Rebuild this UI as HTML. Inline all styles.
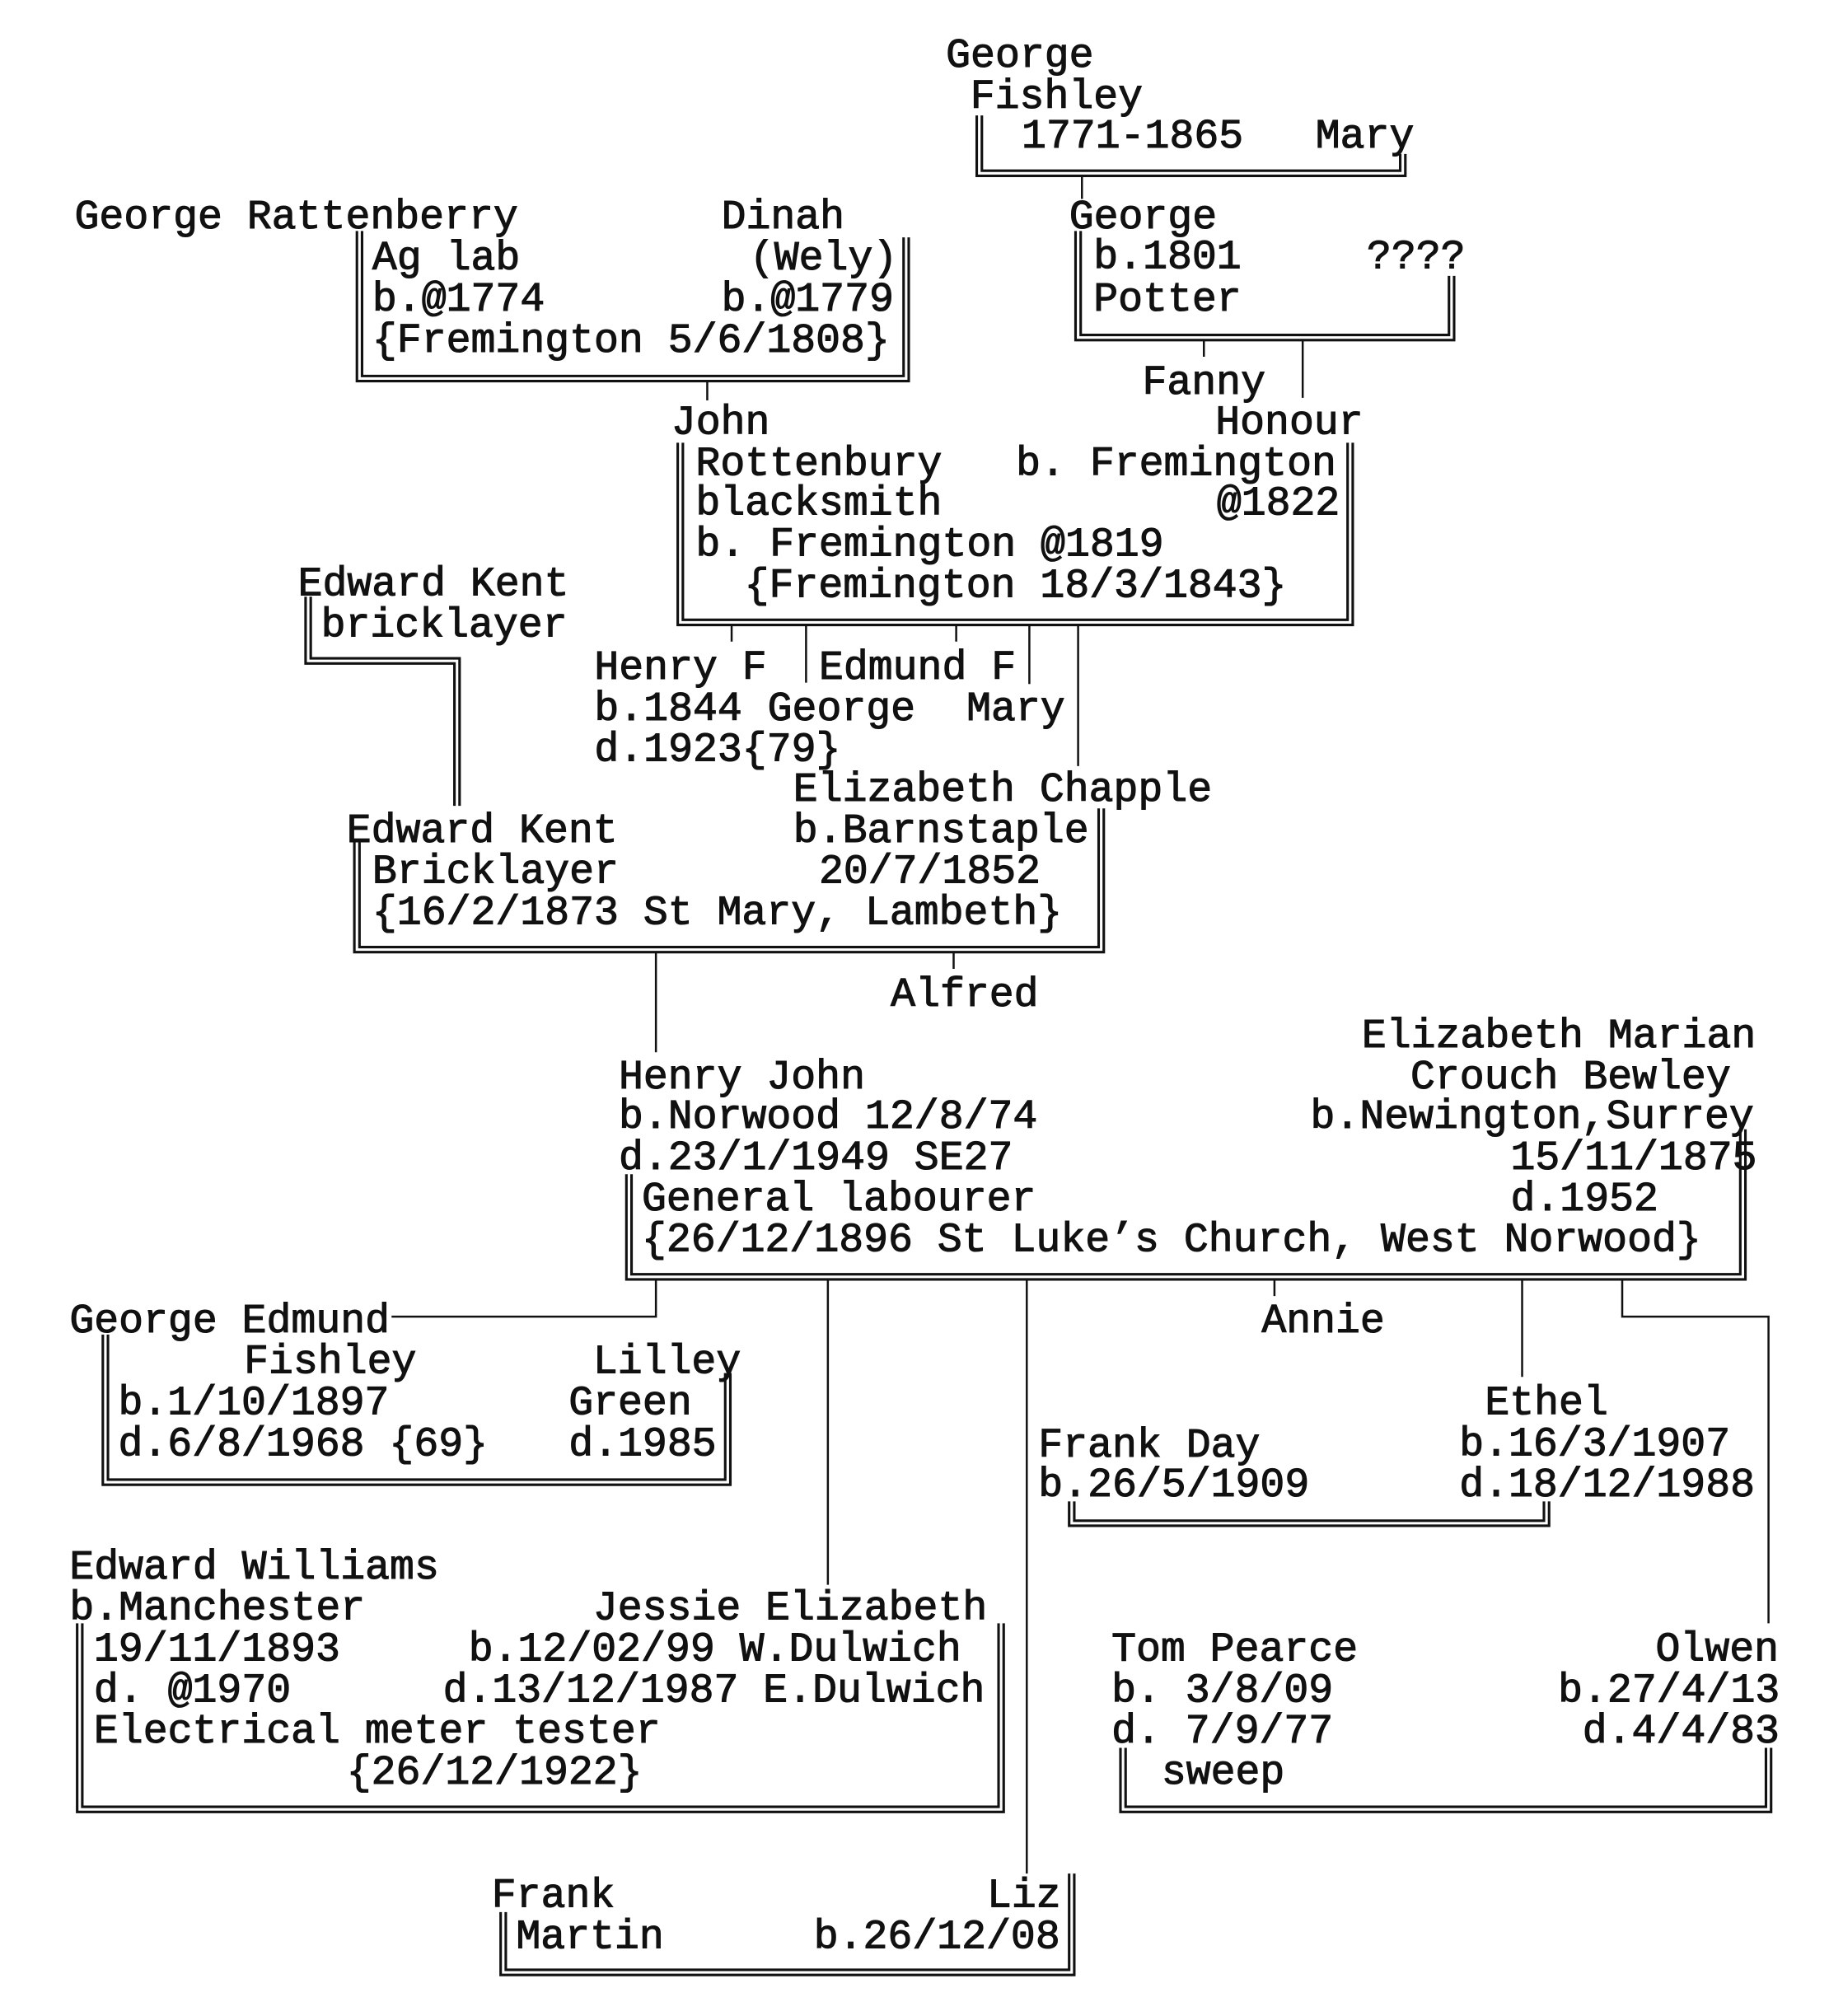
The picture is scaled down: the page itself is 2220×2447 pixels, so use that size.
<!DOCTYPE html>
<html><head><meta charset="utf-8"><style>
html,body{margin:0;padding:0;background:#fff}
svg{display:block}
text{font-family:"Liberation Mono","DejaVu Sans Mono",monospace;font-size:32px;fill:#111;stroke:#111;stroke-width:0.7;white-space:pre}
</style></head><body>
<svg width="2220" height="2447" viewBox="0 0 1425 1571" xmlns="http://www.w3.org/2000/svg" xml:space="preserve">
<g fill="none" stroke="#111" stroke-width="1.6">
<path d="M843 135V155"/>
<path d="M938 263V278M1015 263V310"/>
<path d="M551 295V312"/>
<path d="M570 485V500M628 485V532M745 485V500M802 485V533M840 485V597"/>
<path d="M511 740V820M743 740V755"/>
<path d="M511 995V1026H305M645 995V1235M800 995V1460M993 995V1010M1186 995V1073M1264 995V1026H1378V1265"/>
</g>
<g fill="none" stroke="#111" stroke-width="6" stroke-linejoin="miter">
<path d="M763 90V135H1093V120"/>
<path d="M840 180V263H1131V215"/>
<path d="M280 180V295H706V185"/>
<path d="M530 345V485H1052V345"/>
<path d="M240 465V515H356V628"/>
<path d="M278 655V740H858V630"/>
<path d="M490 915V995H1358V880"/>
<path d="M82 1040V1155H567V1070"/>
<path d="M835 1170V1187H1205V1170"/>
<path d="M62 1265V1410H780V1265"/>
<path d="M875 1362V1410H1378V1362"/>
<path d="M392 1490V1537H835V1460"/>
</g>
<g fill="none" stroke="#fff" stroke-width="2" stroke-linejoin="miter">
<path d="M763 88V135H1093V118"/>
<path d="M840 178V263H1131V213"/>
<path d="M280 178V295H706V183"/>
<path d="M530 343V485H1052V343"/>
<path d="M240 463V515H356V630"/>
<path d="M278 653V740H858V628"/>
<path d="M490 913V995H1358V878"/>
<path d="M82 1038V1155H567V1068"/>
<path d="M835 1168V1187H1205V1168"/>
<path d="M62 1263V1410H780V1263"/>
<path d="M875 1360V1410H1378V1360"/>
<path d="M392 1488V1537H835V1458"/>
</g>
<g transform="translate(0,2)">
<text x="737" y="50">George</text>
<text x="756" y="82">Fishley</text>
<text x="796" y="113">1771-1865</text><text x="1025" y="113">Mary</text>
<text x="833" y="176">George</text>
<text x="852" y="207">b.1801</text><text x="1065" y="207">????</text>
<text x="852" y="240">Potter</text>
<text x="890" y="305">Fanny</text>
<text x="947" y="336">Honour</text>
<text x="58" y="176">George Rattenberry</text><text x="562" y="176">Dinah</text>
<text x="290" y="208">Ag lab</text><text x="584" y="208">(Wely)</text>
<text x="290" y="240">b.@1774</text><text x="562" y="240">b.@1779</text>
<text x="290" y="272">{Fremington 5/6/1808}</text>
<text x="523" y="336">John</text>
<text x="542" y="368">Rottenbury   b. Fremington</text>
<text x="542" y="399">blacksmith</text><text x="948" y="399">@1822</text>
<text x="542" y="431">b. Fremington @1819</text>
<text x="580" y="463">{Fremington 18/3/1843}</text>
<text x="232" y="462">Edward Kent</text>
<text x="250" y="494">bricklayer</text>
<text x="463" y="527">Henry F</text><text x="638" y="527">Edmund F</text>
<text x="463" y="559">b.1844</text><text x="598" y="559">George</text><text x="753" y="559">Mary</text>
<text x="463" y="591">d.1923{79}</text>
<text x="618" y="622">Elizabeth Chapple</text>
<text x="618" y="654">b.Barnstaple</text>
<text x="638" y="686">20/7/1852</text>
<text x="270" y="654">Edward Kent</text>
<text x="290" y="686">Bricklayer</text>
<text x="290" y="718">{16/2/1873 St Mary, Lambeth}</text>
<text x="694" y="782">Alfred</text>
<text x="1061" y="814">Elizabeth Marian</text>
<text x="1099" y="846">Crouch Bewley</text>
<text x="1021" y="877">b.Newington,Surrey</text>
<text x="1177" y="909">15/11/1875</text>
<text x="1177" y="941">d.1952</text>
<text x="482" y="846">Henry John</text>
<text x="482" y="877">b.Norwood 12/8/74</text>
<text x="482" y="909">d.23/1/1949 SE27</text>
<text x="500" y="941">General labourer</text>
<text x="500" y="973">{26/12/1896 St Luke’s Church, West Norwood}</text>
<text x="54" y="1036">George Edmund</text>
<text x="983" y="1036">Annie</text>
<text x="190" y="1068">Fishley</text><text x="462" y="1068">Lilley</text>
<text x="92" y="1100">b.1/10/1897</text><text x="443" y="1100">Green</text>
<text x="92" y="1132">d.6/8/1968 {69}</text><text x="443" y="1132">d.1985</text>
<text x="1157" y="1100">Ethel</text>
<text x="809" y="1133">Frank Day</text><text x="1137" y="1132">b.16/3/1907</text>
<text x="809" y="1164">b.26/5/1909</text><text x="1137" y="1164">d.18/12/1988</text>
<text x="54" y="1228">Edward Williams</text>
<text x="54" y="1260">b.Manchester</text><text x="462" y="1260">Jessie Elizabeth</text>
<text x="73" y="1292">19/11/1893</text><text x="365" y="1292">b.12/02/99 W.Dulwich</text>
<text x="73" y="1324">d. @1970</text><text x="345" y="1324">d.13/12/1987 E.Dulwich</text>
<text x="73" y="1356">Electrical meter tester</text>
<text x="270" y="1388">{26/12/1922}</text>
<text x="866" y="1292">Tom Pearce</text><text x="1290" y="1292">Olwen</text>
<text x="866" y="1324">b. 3/8/09</text><text x="1214" y="1324">b.27/4/13</text>
<text x="866" y="1356">d. 7/9/77</text><text x="1233" y="1356">d.4/4/83</text>
<text x="905" y="1388">sweep</text>
<text x="383" y="1484">Frank</text><text x="769" y="1484">Liz</text>
<text x="402" y="1516">Martin</text><text x="634" y="1516">b.26/12/08</text>
</g>
</svg>
</body></html>
